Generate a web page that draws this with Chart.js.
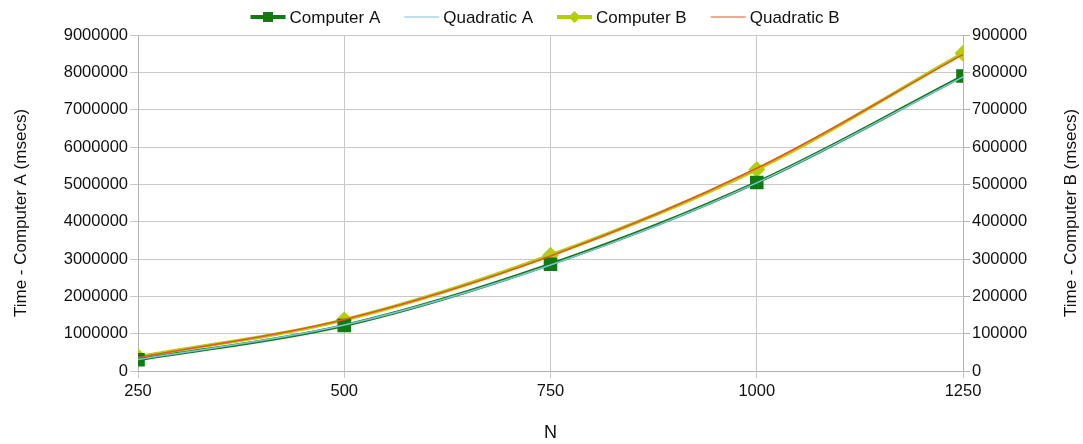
<!DOCTYPE html>
<html>
<head>
<meta charset="utf-8">
<script src="https://cdn.jsdelivr.net/npm/chart.js@4.4.1/dist/chart.umd.min.js"></script>
<style>
  html, body { margin: 0; padding: 0; background: #fff; }
  #wrap { width: 1083px; height: 444px; }
</style>
</head>
<body>
<div id="wrap"><canvas id="timeChart"></canvas></div>
<script>
// N values and measured/fitted times
const nValues = [250, 500, 750, 1000, 1250];
const computerA = [300000, 1220000, 2860000, 5050000, 7900000];
const quadraticA = [310000, 1230000, 2840000, 5040000, 7880000];
const computerB = [38000, 137000, 310000, 540000, 851000];
const quadraticB = [36000, 138000, 308000, 543000, 848000];
const leftTicks = [0, 1000000, 2000000, 3000000, 4000000, 5000000, 6000000, 7000000, 8000000, 9000000];
const rightTicks = [0, 100000, 200000, 300000, 400000, 500000, 600000, 700000, 800000, 900000];

const GREEN = '#127a12';
const LIGHT_BLUE = '#7cc2e0';
const LIME = '#b4cf0a';
const ORANGE = '#e8542a';
const FONT = "'Liberation Sans', Arial, sans-serif";
const TEXT = '#111';

function toPoints(arr) {
    return nValues.map((n, i) => ({ x: n, y: arr[i] }));
}

// draws the legend row and the two rotated y titles
const chartDecor = {
    id: 'chartDecor',
    afterDraw(chart) {
        const g = chart.ctx;
        const area = chart.chartArea;
        g.save();
        g.font = '17px ' + FONT;
        g.fillStyle = TEXT;
        g.textBaseline = 'middle';

        // legend
        const iconW = 35, gapText = 4, gapItem = 24;
        const items = chart.data.datasets;
        let total = 0;
        items.forEach((ds, i) => {
            total += iconW + gapText + g.measureText(ds.label).width;
            if (i < items.length - 1) total += gapItem;
        });
        let x = 545 - total / 2;
        const ly = 17;
        items.forEach(ds => {
            g.strokeStyle = ds.borderColor;
            g.lineWidth = ds.legendLine;
            g.beginPath(); g.moveTo(x, ly); g.lineTo(x + iconW, ly); g.stroke();
            g.fillStyle = ds.borderColor;
            const cx = x + iconW / 2;
            if (ds.legendMarker === 'square') {
                g.fillRect(cx - 5, ly - 5, 10, 10);
            } else if (ds.legendMarker === 'diamond') {
                g.beginPath();
                g.moveTo(cx, ly - 6); g.lineTo(cx + 6, ly); g.lineTo(cx, ly + 6); g.lineTo(cx - 6, ly);
                g.closePath(); g.fill();
            }
            g.fillStyle = TEXT;
            g.textAlign = 'left';
            g.fillText(ds.label, x + iconW + gapText, ly + 1);
            x += iconW + gapText + g.measureText(ds.label).width + gapItem;
        });

        // y axis titles
        const ty = (area.top + area.bottom) / 2 + 10;
        g.textAlign = 'center';
        g.translate(21, ty);
        g.rotate(-Math.PI / 2);
        g.fillText('Time - Computer A (msecs)', 0, 0);
        g.rotate(Math.PI / 2);
        g.translate(1071 - 21, 0);
        g.rotate(-Math.PI / 2);
        g.fillText('Time - Computer B (msecs)', 0, 0);
        g.restore();
    }
};

Chart.defaults.font.family = FONT;
Chart.defaults.color = TEXT;

const ctx = document.getElementById('timeChart').getContext('2d');
new Chart(ctx, {
    type: 'line',
    data: {
        datasets: [
            {
                label: 'Computer A',
                data: toPoints(computerA),
                borderColor: GREEN,
                backgroundColor: GREEN,
                borderWidth: 3,
                pointStyle: 'rect',
                pointRadius: 7.5,
                tension: 0.35,
                yAxisID: 'y',
                order: 3,
                legendLine: 4,
                legendMarker: 'square'
            },
            {
                label: 'Quadratic A',
                data: toPoints(quadraticA),
                borderColor: LIGHT_BLUE,
                backgroundColor: LIGHT_BLUE,
                borderWidth: 1.5,
                pointRadius: 0,
                tension: 0.35,
                yAxisID: 'y',
                order: 2,
                legendLine: 1.2,
                legendMarker: null
            },
            {
                label: 'Computer B',
                data: toPoints(computerB),
                borderColor: LIME,
                backgroundColor: LIME,
                borderWidth: 3.5,
                pointStyle: 'rectRot',
                pointRadius: 6,
                tension: 0.35,
                yAxisID: 'y1',
                order: 4,
                legendLine: 4,
                legendMarker: 'diamond'
            },
            {
                label: 'Quadratic B',
                data: toPoints(quadraticB),
                borderColor: ORANGE,
                backgroundColor: ORANGE,
                borderWidth: 1.5,
                pointRadius: 0,
                tension: 0.35,
                yAxisID: 'y1',
                order: 1,
                legendLine: 1.2,
                legendMarker: null
            }
        ]
    },
    options: {
        responsive: true,
        maintainAspectRatio: false,
        animation: false,
        layout: { padding: { top: 35, left: 0, right: 0, bottom: 0 } },
        plugins: {
            tooltip: { enabled: false },
            legend: { display: false }
        },
        scales: {
            x: {
                type: 'linear',
                min: 250,
                max: 1250,
                afterBuildTicks(scale) {
                    scale.ticks = nValues.map(v => ({ value: v }));
                },
                afterFit(scale) { scale.height = 73; },
                ticks: { font: { size: 16.5 }, color: TEXT, padding: 4, callback: v => String(v) },
                grid: { color: '#c8c8c8', tickLength: 7 },
                border: { color: '#b3b3b3' },
                title: { display: true, text: 'N', font: { size: 18 }, color: TEXT, padding: { top: 0, bottom: 0 } }
            },
            y: {
                type: 'linear',
                position: 'left',
                min: 0,
                max: 9000000,
                afterBuildTicks(scale) {
                    scale.ticks = leftTicks.map(v => ({ value: v }));
                },
                afterFit(scale) { scale.width = 138; },
                ticks: { font: { size: 16.5 }, color: TEXT, padding: 2, callback: v => String(v) },
                grid: { color: '#c8c8c8', tickLength: 8 },
                border: { color: '#b3b3b3' }
            },
            y1: {
                type: 'linear',
                position: 'right',
                min: 0,
                max: 900000,
                afterBuildTicks(scale) {
                    scale.ticks = rightTicks.map(v => ({ value: v }));
                },
                afterFit(scale) { scale.width = 120; },
                ticks: { font: { size: 16.5 }, color: TEXT, padding: 2, callback: v => String(v) },
                grid: { drawOnChartArea: false, color: '#b3b3b3', tickLength: 7 },
                border: { color: '#b3b3b3' }
            }
        }
    },
    plugins: [chartDecor]
});
</script>
</body>
</html>
